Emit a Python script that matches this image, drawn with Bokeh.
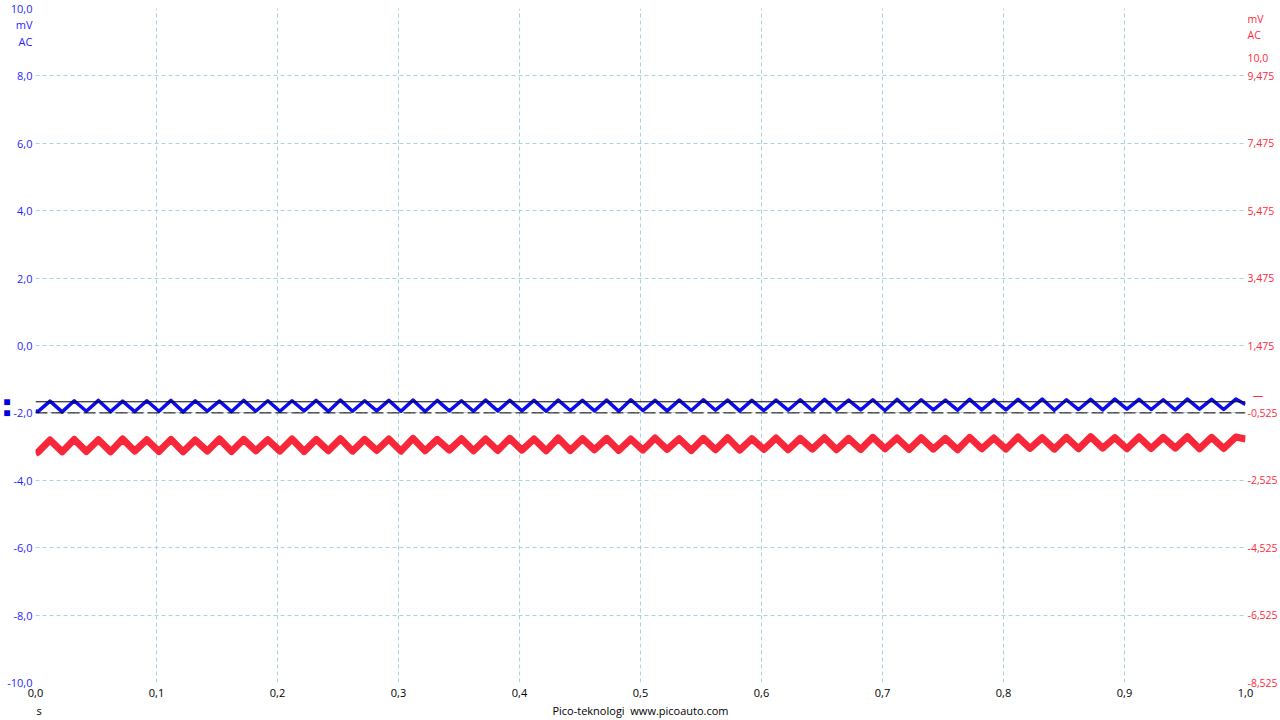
from bokeh.plotting import figure
from bokeh.models import Range1d, LinearAxis, FixedTicker, Span
from bokeh.embed import file_html
from bokeh.resources import INLINE

# ---------------- data ----------------
x_ticks = [0.0, 0.1, 0.2, 0.3, 0.4, 0.5, 0.6, 0.7, 0.8, 0.9, 1.0]
x_tick_labels = ["0,0", "0,1", "0,2", "0,3", "0,4", "0,5", "0,6", "0,7", "0,8", "0,9", "1,0"]
x_unit_label = "s"
footer_text = "Pico-teknologi \u00a0www.picoauto.com"
footer_pos = [0.003, 0.5]          # where "s" and the footer sit along the time axis

left_ticks = [-10, -8, -6, -4, -2, 0, 2, 4, 6, 8, 10]
left_tick_labels = ["-10,0", "-8,0", "-6,0", "-4,0", "-2,0", "0,0", "2,0", "4,0", "6,0", "8,0", "10,0"]

right_ticks = [10.0, 9.475, 7.475, 5.475, 3.475, 1.475, -0.525, -2.525, -4.525, -6.525, -8.525]
right_tick_labels = ["10,0", "9,475", "7,475", "5,475", "3,475", "1,475", "-0,525", "-2,525",
                     "-4,525", "-6,525", "-8,525"]

unit_labels = ["mV", "AC"]
left_unit_pos = [9.53, 9.03]      # where "mV" / "AC" sit on the left (channel A) scale
right_unit_pos = [11.15, 10.68]   # where "mV" / "AC" sit on the right (channel B) scale

# time (s) of successive troughs / peaks of the 50 Hz ripple (trough, peak, trough, ...)
half_cycle_t = [
    0.002, 0.012, 0.022, 0.032, 0.042, 0.052, 0.062, 0.072, 0.082, 0.092,
    0.102, 0.112, 0.122, 0.132, 0.142, 0.152, 0.162, 0.172, 0.182, 0.192,
    0.202, 0.212, 0.222, 0.232, 0.242, 0.252, 0.262, 0.272, 0.282, 0.292,
    0.302, 0.312, 0.322, 0.332, 0.342, 0.352, 0.362, 0.372, 0.382, 0.392,
    0.402, 0.412, 0.422, 0.432, 0.442, 0.452, 0.462, 0.472, 0.482, 0.492,
    0.502, 0.512, 0.522, 0.532, 0.542, 0.552, 0.562, 0.572, 0.582, 0.592,
    0.602, 0.612, 0.622, 0.632, 0.642, 0.652, 0.662, 0.672, 0.682, 0.692,
    0.702, 0.712, 0.722, 0.732, 0.742, 0.752, 0.762, 0.772, 0.782, 0.792,
    0.802, 0.812, 0.822, 0.832, 0.842, 0.852, 0.862, 0.872, 0.882, 0.892,
    0.902, 0.912, 0.922, 0.932, 0.942, 0.952, 0.962, 0.972, 0.982, 0.992,
]

# Channel A (blue, left axis, mV)
blue_start, blue_end = -1.94, -1.75
blue_troughs = [
    -1.96, -1.97, -1.95, -1.96, -1.96, -1.95, -1.97, -1.95, -1.96, -1.95,
    -1.95, -1.94, -1.96, -1.95, -1.94, -1.95, -1.96, -1.94, -1.95, -1.94,
    -1.94, -1.95, -1.93, -1.94, -1.95, -1.93, -1.94, -1.93, -1.92, -1.94,
    -1.93, -1.92, -1.93, -1.92, -1.91, -1.93, -1.92, -1.91, -1.92, -1.91,
    -1.91, -1.90, -1.92, -1.90, -1.91, -1.89, -1.90, -1.91, -1.89, -1.90,
]
blue_peaks = [
    -1.65, -1.64, -1.63, -1.65, -1.64, -1.63, -1.64, -1.65, -1.63, -1.64,
    -1.64, -1.63, -1.62, -1.64, -1.63, -1.62, -1.63, -1.64, -1.62, -1.63,
    -1.63, -1.62, -1.63, -1.62, -1.61, -1.63, -1.62, -1.61, -1.62, -1.63,
    -1.62, -1.61, -1.60, -1.62, -1.61, -1.60, -1.61, -1.62, -1.60, -1.61,
    -1.60, -1.59, -1.61, -1.60, -1.59, -1.60, -1.61, -1.59, -1.60, -1.59,
]

# Channel B (red, right axis, mV)
red_start, red_end = -1.73, -1.30
red_troughs = [
    -1.69, -1.68, -1.67, -1.68, -1.66, -1.67, -1.68, -1.66, -1.67, -1.65,
    -1.66, -1.67, -1.65, -1.66, -1.64, -1.66, -1.65, -1.63, -1.65, -1.64,
    -1.63, -1.65, -1.64, -1.62, -1.64, -1.63, -1.61, -1.64, -1.62, -1.63,
    -1.61, -1.62, -1.60, -1.62, -1.61, -1.59, -1.61, -1.60, -1.62, -1.59,
    -1.60, -1.58, -1.60, -1.59, -1.57, -1.59, -1.58, -1.57, -1.59, -1.58,
]
red_peaks = [
    -1.33, -1.31, -1.32, -1.30, -1.32, -1.31, -1.33, -1.30, -1.31, -1.32,
    -1.30, -1.31, -1.29, -1.31, -1.30, -1.28, -1.31, -1.29, -1.30, -1.28,
    -1.30, -1.27, -1.29, -1.28, -1.30, -1.27, -1.29, -1.28, -1.26, -1.29,
    -1.27, -1.28, -1.26, -1.28, -1.25, -1.27, -1.26, -1.28, -1.25, -1.27,
    -1.24, -1.26, -1.25, -1.23, -1.26, -1.24, -1.25, -1.23, -1.25, -1.24,
]

ruler_levels = [-1.67, -2.0]   # black rulers (solid, dashed), left scale
red_zero = 0.0                 # channel B zero marker (right scale)

# ---------------- assemble series ----------------
t = [0.0] + half_cycle_t + [1.0]
blue = [blue_start] + [v for pair in zip(blue_troughs, blue_peaks) for v in pair] + [blue_end]
red = [red_start] + [v for pair in zip(red_troughs, red_peaks) for v in pair] + [red_end]

FONT = "Open Sans"
BLUE_TXT = "#1f1fff"
RED_TXT = "#ff2a3c"
GRID = "#a8d3df"

p = figure(width=1280, height=720, output_backend="svg", toolbar_location=None,
           x_range=Range1d(0, 1), y_range=Range1d(-10, 10),
           min_border_left=35, min_border_right=35, min_border_top=8, min_border_bottom=38,
           outline_line_color=None, background_fill_color="white", border_fill_color="white")
p.extra_y_ranges = {"r": Range1d(-8.525, 11.475)}

# grids
p.xgrid.ticker = FixedTicker(ticks=x_ticks)
p.ygrid.ticker = FixedTicker(ticks=left_ticks)
for g in (p.xgrid, p.ygrid):
    g.grid_line_color = GRID
    g.grid_line_dash = "4 3"
    g.grid_line_width = 1


def style_axis(ax, color, size="11px", standoff=3):
    ax.axis_line_color = None
    ax.major_tick_line_color = None
    ax.minor_tick_line_color = None
    ax.major_tick_out = 0
    ax.major_tick_in = 0
    ax.minor_tick_out = 0
    ax.minor_tick_in = 0
    ax.major_label_text_font = FONT
    ax.major_label_text_font_size = size
    ax.major_label_text_color = color
    ax.major_label_standoff = standoff


# bottom axis (time ticks)
xa = p.xaxis[0]
xa.ticker = FixedTicker(ticks=x_ticks)
xa.major_label_overrides = dict(zip(x_ticks, x_tick_labels))
style_axis(xa, "#000000", standoff=6)

# second bottom row: unit "s" and footer
xa2 = LinearAxis(ticker=FixedTicker(ticks=footer_pos))
xa2.major_label_overrides = dict(zip(footer_pos, [x_unit_label, footer_text]))
style_axis(xa2, "#000000", standoff=3)
p.add_layout(xa2, "below")

# left axis (channel A) with unit labels
ya = p.yaxis[0]
ya.ticker = FixedTicker(ticks=left_ticks + left_unit_pos)
ya.major_label_overrides = {**dict(zip(left_ticks, left_tick_labels)),
                            **dict(zip(left_unit_pos, unit_labels))}
style_axis(ya, BLUE_TXT, standoff=3)

# outer left axis: ruler handles
ya2 = LinearAxis(ticker=FixedTicker(ticks=ruler_levels))
ya2.major_label_overrides = {v: "\u25a0" for v in ruler_levels}
style_axis(ya2, "#0000e0", size="12px", standoff=-6)
p.add_layout(ya2, "left")

# right axis (channel B) with unit labels and zero marker
ra = LinearAxis(y_range_name="r",
                ticker=FixedTicker(ticks=right_ticks + right_unit_pos + [red_zero]))
ra.major_label_overrides = {**dict(zip(right_ticks, right_tick_labels)),
                            **dict(zip(right_unit_pos, unit_labels)),
                            red_zero: "\u2002\u2014"}
style_axis(ra, RED_TXT, size="10.5px", standoff=2)
p.add_layout(ra, "right")

# rulers
p.add_layout(Span(location=ruler_levels[0], dimension="width", line_color="black",
                  line_width=1, level="glyph"))
p.add_layout(Span(location=ruler_levels[1], dimension="width", line_color="black",
                  line_width=1, line_dash="12 4", level="glyph"))

# traces
p.line(t, blue, line_color="#0c0cec", line_width=3.5, line_join="round")
p.line(t, red, line_color="#f8283a", line_width=7, y_range_name="r", line_join="round")

open("out.html", "w").write(file_html(p, INLINE))
